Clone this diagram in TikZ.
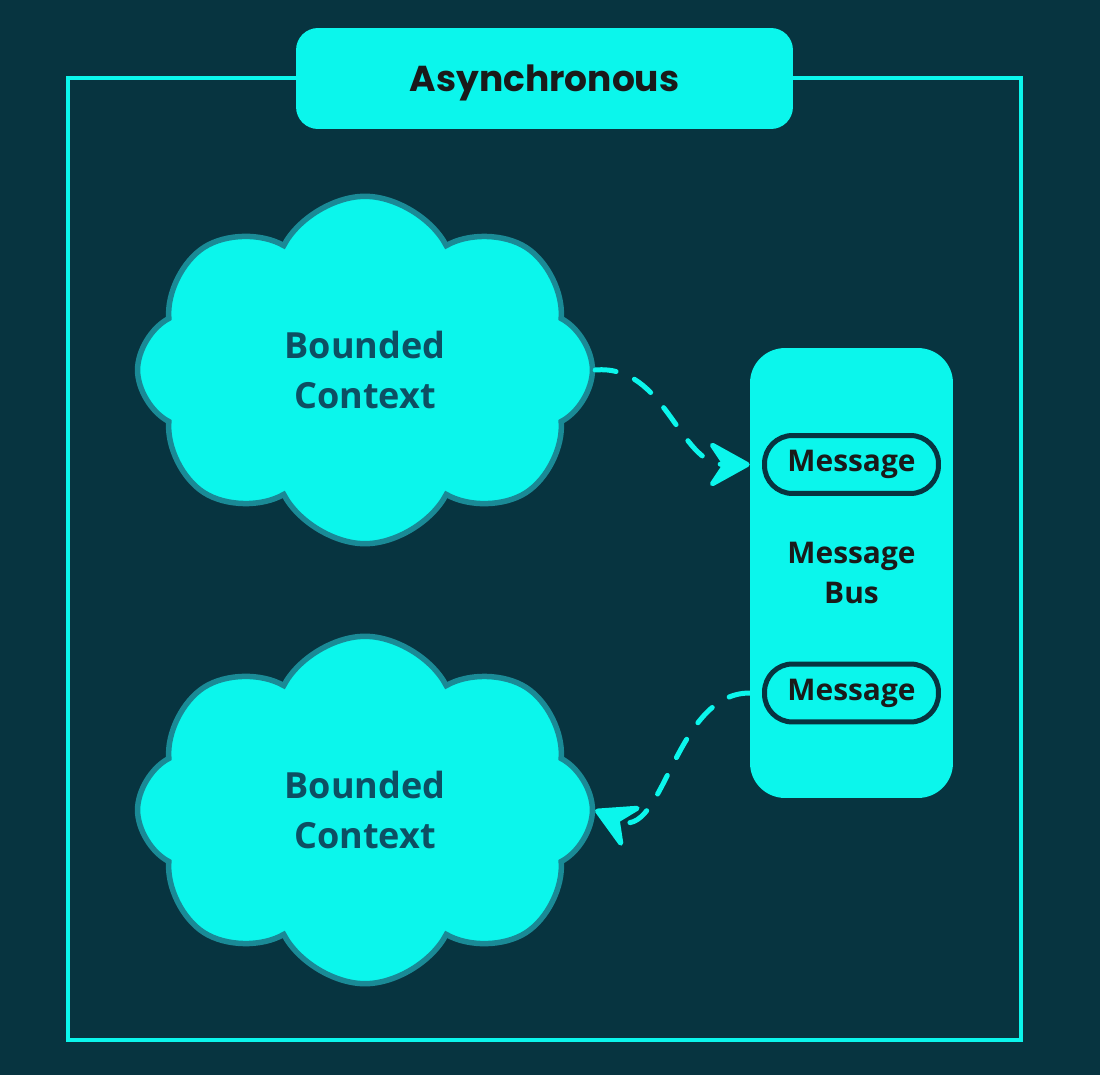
\documentclass[tikz,border=0pt]{standalone}
\usepackage{fontspec}
\setmainfont{Open Sans}
\newfontfamily\titlefont{Poppins}
\usepackage{xcolor}
\usetikzlibrary{shapes.symbols,arrows.meta,positioning}
\definecolor{bgcolor}{RGB}{7,52,64}
\definecolor{cyancolor}{RGB}{11,246,236}
\definecolor{edgecolor}{RGB}{26,138,150}
\definecolor{ctxtext}{RGB}{13,79,99}
\definecolor{inkcolor}{RGB}{26,26,26}

\begin{document}
\begin{tikzpicture}[
    x=0.02cm, y=-0.02cm,
    frame/.style={draw=cyancolor, line width=0.08cm},
    heading/.style={rectangle, rounded corners=0.44cm, fill=cyancolor, minimum width=9.94cm, minimum height=2.02cm, text depth=0pt, text=inkcolor, font=\titlefont\bfseries\fontsize{20.5}{24}\selectfont},
    context/.style={cloud, cloud puffs=8, cloud puff arc=125, aspect=1.33, draw=edgecolor, line width=0.11cm, fill=cyancolor, minimum width=9.1cm, minimum height=6.95cm, align=center, text=ctxtext, font=\bfseries\fontsize{20.5}{29}\selectfont},
    bus/.style={rectangle, rounded corners=0.7cm, fill=cyancolor, minimum width=4.06cm, minimum height=9cm, align=center, text=inkcolor, font=\bfseries\fontsize{17}{23}\selectfont},
    message/.style={rectangle, rounded corners=0.56cm, draw=bgcolor, line width=0.1cm, fill=cyancolor, minimum width=3.48cm, minimum height=1.16cm, text=inkcolor, font=\bfseries\fontsize{17}{20}\selectfont},
    flow/.style={-{Stealth[length=0.95cm, width=1.05cm, inset=0.35cm, round]}, draw=cyancolor, line width=0.1cm, dash pattern=on 0.42cm off 0.4cm, line cap=round}
]

% Background
\fill[bgcolor] (0,0) rectangle (1100,1075);
\useasboundingbox (0,0) rectangle (1100,1075);

% Frame and title
\draw[frame] (68,78) rectangle (1021,1040);
\node[heading] (title) at (544.5,78.5) {Asynchronous};

% Bounded contexts
\node[context] (ctx1) at (365,370) {Bounded\\Context};
\node[context] (ctx2) at (365,810) {Bounded\\Context};

% Message bus
\node[bus] (bus) at (851.5,573) {Message\\Bus};
\node[message] (msg1) at (851.5,464.5) {Message};
\node[message] (msg2) at (851.5,693) {Message};

% Arrows
\coordinate (in1) at (bus.west |- msg1);
\coordinate (out2) at (bus.west |- msg2);
\draw[flow] (ctx1.east) to[out=5, in=180] (in1);
\draw[flow] (out2) to[out=180, in=-25] (ctx2.east);

\end{tikzpicture}
\end{document}
